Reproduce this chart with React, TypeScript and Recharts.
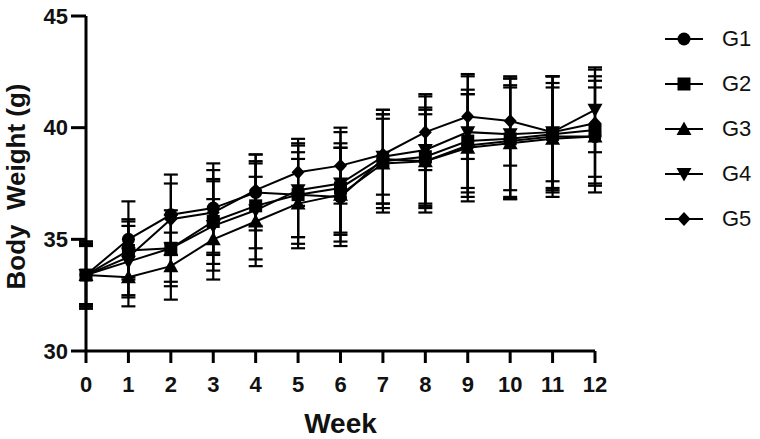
import React from 'react';
import { LineChart, Line, XAxis, YAxis, ErrorBar, Legend } from 'recharts';

// Study weeks
const weeks = [0, 1, 2, 3, 4, 5, 6, 7, 8, 9, 10, 11, 12];

// Mean body weight (g) per group
const g1Mean = [33.4, 35.0, 36.1, 36.4, 37.1, 37.0, 36.9, 38.6, 38.5, 39.2, 39.4, 39.6, 39.6];
const g2Mean = [33.4, 34.5, 34.6, 35.8, 36.5, 37.0, 37.3, 38.5, 38.7, 39.4, 39.5, 39.7, 39.9];
const g3Mean = [33.4, 33.3, 33.8, 35.0, 35.8, 36.6, 37.0, 38.4, 38.5, 39.1, 39.3, 39.5, 39.6];
const g4Mean = [33.4, 34.0, 34.6, 35.6, 36.3, 37.2, 37.5, 38.7, 39.0, 39.8, 39.7, 39.8, 40.8];
const g5Mean = [33.4, 34.2, 35.9, 36.2, 37.2, 38.0, 38.3, 38.8, 39.8, 40.5, 40.3, 39.8, 40.2];

// Standard deviation per group
const g1Sd = [1.5, 1.7, 1.8, 2.0, 1.7, 1.9, 2.2, 2.2, 2.3, 2.3, 2.5, 2.7, 2.5];
const g2Sd = [1.4, 1.3, 1.5, 1.9, 1.9, 2.2, 2.0, 1.9, 2.2, 2.3, 2.7, 2.6, 2.4];
const g3Sd = [1.3, 1.3, 1.5, 1.8, 2.0, 2.0, 2.1, 2.2, 2.1, 2.4, 2.5, 2.3, 2.2];
const g4Sd = [1.4, 1.6, 1.7, 2.0, 2.2, 2.1, 2.3, 2.1, 2.4, 2.5, 2.5, 2.5, 1.9];
const g5Sd = [1.5, 1.7, 1.6, 1.9, 1.6, 1.5, 1.7, 1.8, 1.7, 1.9, 2.0, 2.2, 2.4];

const groupNames = ['G1', 'G2', 'G3', 'G4', 'G5'];
const yTicks = [30, 35, 40, 45];

type ShapeKind = 'circle' | 'square' | 'triangle' | 'invtriangle' | 'diamond';
const shapes: ShapeKind[] = ['circle', 'square', 'triangle', 'invtriangle', 'diamond'];

const means = [g1Mean, g2Mean, g3Mean, g4Mean, g5Mean];
const sds = [g1Sd, g2Sd, g3Sd, g4Sd, g5Sd];

const data = weeks.map((w, i) => {
  const row: Record<string, number> = { week: w };
  groupNames.forEach((g, k) => {
    row[g] = means[k][i];
    row[g + 'sd'] = sds[k][i];
  });
  return row;
});

const INK = '#000';
const FONT = '"Liberation Sans", Arial, sans-serif';

function Marker({ kind, cx, cy }: { kind: ShapeKind; cx: number; cy: number }) {
  switch (kind) {
    case 'circle':
      return <circle cx={cx} cy={cy} r={6.5} fill={INK} />;
    case 'square':
      return <rect x={cx - 6.5} y={cy - 6.5} width={13} height={13} fill={INK} />;
    case 'triangle':
      return <path d={`M${cx},${cy - 7.5} L${cx + 7.5},${cy + 6} L${cx - 7.5},${cy + 6} Z`} fill={INK} />;
    case 'invtriangle':
      return <path d={`M${cx},${cy + 7.5} L${cx + 7.5},${cy - 6} L${cx - 7.5},${cy - 6} Z`} fill={INK} />;
    default:
      return <path d={`M${cx},${cy - 7} L${cx + 6.5},${cy} L${cx},${cy + 7} L${cx - 6.5},${cy} Z`} fill={INK} />;
  }
}

const makeDot = (kind: ShapeKind) => (props: any) => {
  const { cx, cy, index } = props;
  if (cx == null || cy == null) return <g key={`d-${kind}-${index}`} />;
  return (
    <g key={`d-${kind}-${index}`}>
      <Marker kind={kind} cx={cx} cy={cy} />
    </g>
  );
};

const LegendContent = () => (
  <div style={{ width: 165, paddingLeft: 70, boxSizing: 'border-box', fontFamily: FONT }}>
    {groupNames.map((g, k) => (
      <div key={g} style={{ display: 'flex', alignItems: 'center', height: 45 }}>
        <svg width={40} height={20} style={{ display: 'block' }}>
          <line x1={0} y1={10} x2={38} y2={10} stroke={INK} strokeWidth={2} />
          <Marker kind={shapes[k]} cx={19} cy={10} />
        </svg>
        <span style={{ fontSize: 22, marginLeft: 17, color: '#111', lineHeight: '22px' }}>{g}</span>
      </div>
    ))}
  </div>
);

const YLabel = (props: any) => {
  const vb = props.viewBox || { x: 0, y: 0, width: 0, height: 0 };
  const x = vb.x + 16;
  const y = vb.y + vb.height / 2 + 3;
  return (
    <text
      x={x}
      y={y}
      transform={`rotate(-90 ${x} ${y})`}
      textAnchor="middle"
      dominantBaseline="central"
      fontFamily={FONT}
      fontWeight="bold"
      fontSize={26}
      fill="#111"
      style={{ whiteSpace: 'pre' }}
    >
      {'Body  Weight (g)'}
    </text>
  );
};

const XLabel = (props: any) => {
  const vb = props.viewBox || { x: 0, y: 0, width: 0, height: 0 };
  return (
    <text
      x={vb.x + vb.width / 2}
      y={vb.y + 72}
      textAnchor="middle"
      dominantBaseline="central"
      fontFamily={FONT}
      fontWeight="bold"
      fontSize={28}
      fill="#111"
    >
      Week
    </text>
  );
};

export default function App() {
  return (
    <div style={{ position: 'absolute', left: 0, top: 0, width: 760, height: 439, background: '#fff' }}>
      <LineChart
        width={760}
        height={439}
        data={data}
        margin={{ top: 16, right: 0, bottom: 0, left: 0 }}
      >
        <XAxis
          dataKey="week"
          type="number"
          domain={[0, 12]}
          ticks={weeks}
          interval={0}
          height={88}
          tickSize={12}
          tickMargin={13}
          axisLine={{ stroke: INK, strokeWidth: 3 }}
          tickLine={{ stroke: INK, strokeWidth: 3 }}
          tick={{ fill: '#111', fontSize: 22, fontWeight: 'bold', fontFamily: FONT }}
          label={<XLabel />}
        />
        <YAxis
          type="number"
          domain={[30, 45]}
          ticks={yTicks}
          interval={0}
          width={86}
          tickSize={15}
          tickMargin={3}
          axisLine={{ stroke: INK, strokeWidth: 3 }}
          tickLine={{ stroke: INK, strokeWidth: 3 }}
          tick={{ fill: '#111', fontSize: 22, fontWeight: 'bold', fontFamily: FONT }}
          label={<YLabel />}
        />
        <Legend
          layout="vertical"
          align="right"
          verticalAlign="top"
          content={<LegendContent />}
        />
        {groupNames.map((g, k) => (
          <Line
            key={g}
            dataKey={g}
            name={g}
            stroke={INK}
            strokeWidth={2}
            isAnimationActive={false}
            dot={makeDot(shapes[k])}
            activeDot={false}
          >
            <ErrorBar dataKey={g + 'sd'} direction="y" width={7} stroke={INK} strokeWidth={2.2} />
          </Line>
        ))}
      </LineChart>
    </div>
  );
}
